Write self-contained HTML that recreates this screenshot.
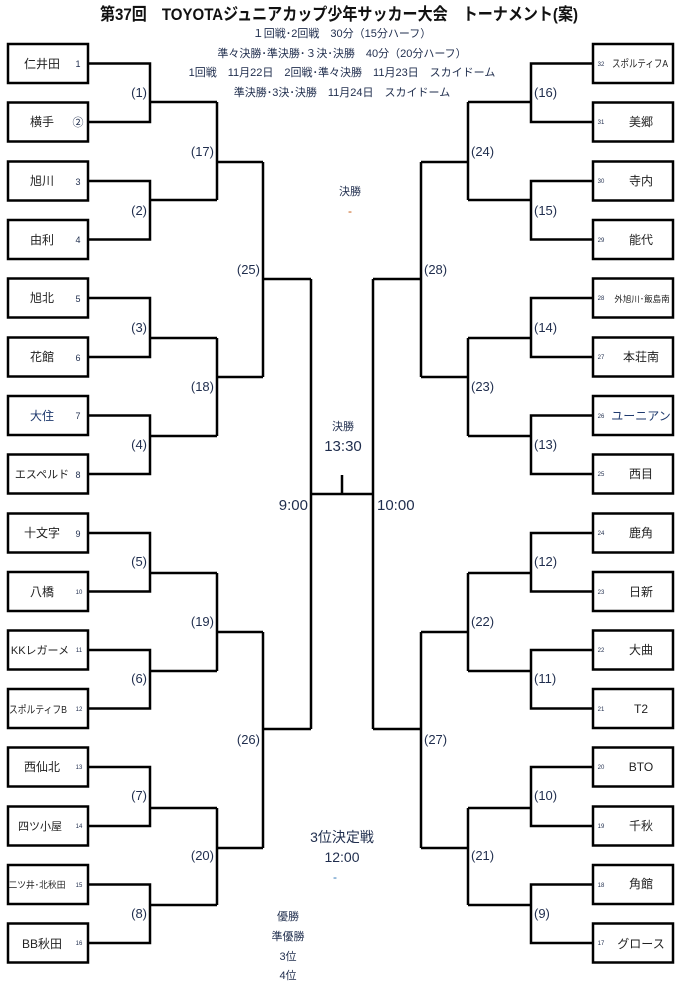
<!DOCTYPE html>
<html><head><meta charset="utf-8"><style>
html,body{margin:0;padding:0;background:#fff;}
svg{display:block;font-family:"Liberation Sans","Noto Sans CJK JP",sans-serif;}
.l{fill:#1f2d4d;font-size:13px;}
.n{fill:#222;font-size:12px;}
.s{fill:#1f2d4d;font-size:6px;}
.m{fill:#1f2d4d;font-size:9px;}
.h{fill:#1f2d4d;font-size:11px;}
</style></head><body>
<svg width="684" height="992" viewBox="0 0 684 992" xmlns="http://www.w3.org/2000/svg">
<text x="100" y="20" textLength="478" lengthAdjust="spacingAndGlyphs" font-size="17" font-weight="bold" fill="#111">第37回　TOYOTAジュニアカップ少年サッカー大会　トーナメント(案)</text>
<text class="h" x="342" y="37" text-anchor="middle">１回戦･2回戦　30分（15分ハーフ）</text>
<text class="h" x="342" y="57" text-anchor="middle">準々決勝･準決勝･３決･決勝　40分（20分ハーフ）</text>
<text class="h" x="342" y="76" text-anchor="middle">1回戦　11月22日　2回戦･準々決勝　11月23日　スカイドーム</text>
<text class="h" x="342" y="96" text-anchor="middle">準決勝･3決･決勝　11月24日　スカイドーム</text>

<g fill="none" stroke="#000" stroke-width="2.5">
<rect x="8" y="44" width="80" height="39"/><rect x="8" y="102.5" width="80" height="39"/>
<rect x="8" y="161.5" width="80" height="39"/><rect x="8" y="220" width="80" height="39"/>
<rect x="8" y="278.5" width="80" height="39"/><rect x="8" y="337.5" width="80" height="39"/>
<rect x="8" y="396" width="80" height="39"/><rect x="8" y="454.5" width="80" height="39"/>
<rect x="8" y="513.5" width="80" height="39"/><rect x="8" y="572" width="80" height="39"/>
<rect x="8" y="630.5" width="80" height="39"/><rect x="8" y="689" width="80" height="39"/>
<rect x="8" y="747.5" width="80" height="39"/><rect x="8" y="806.5" width="80" height="39"/>
<rect x="8" y="865" width="80" height="39"/><rect x="8" y="923.5" width="80" height="39"/>
<rect x="593" y="44" width="80" height="39"/><rect x="593" y="102.5" width="80" height="39"/>
<rect x="593" y="161.5" width="80" height="39"/><rect x="593" y="220" width="80" height="39"/>
<rect x="593" y="278.5" width="80" height="39"/><rect x="593" y="337.5" width="80" height="39"/>
<rect x="593" y="396" width="80" height="39"/><rect x="593" y="454.5" width="80" height="39"/>
<rect x="593" y="513.5" width="80" height="39"/><rect x="593" y="572" width="80" height="39"/>
<rect x="593" y="630.5" width="80" height="39"/><rect x="593" y="689" width="80" height="39"/>
<rect x="593" y="747.5" width="80" height="39"/><rect x="593" y="806.5" width="80" height="39"/>
<rect x="593" y="865" width="80" height="39"/><rect x="593" y="923.5" width="80" height="39"/>
<path d="M88 63.5H150V122H88M150 102H217"/>
<path d="M88 181H150V239.5H88M150 200H217"/>
<path d="M88 298H150V357H88M150 338H217"/>
<path d="M88 415.5H150V474H88M150 436H217"/>
<path d="M88 533H150V591.5H88M150 573H217"/>
<path d="M88 650H150V708.5H88M150 671H217"/>
<path d="M88 767H150V826H88M150 808H217"/>
<path d="M88 884.5H150V943H88M150 905H217"/>
<path d="M217 102V200M217 162H263"/>
<path d="M217 338V436M217 377H263"/>
<path d="M217 573V671M217 632H263"/>
<path d="M217 808V905M217 848H263"/>
<path d="M263 162V377M263 279H311"/>
<path d="M263 632V848M263 729H311"/>
<path d="M311 279V729M311 494H373M373 279V729M342 475V494"/>
<path d="M593 63.5H531V122H593M531 102H468"/>
<path d="M593 181H531V239.5H593M531 200H468"/>
<path d="M593 298H531V357H593M531 338H468"/>
<path d="M593 415.5H531V474H593M531 436H468"/>
<path d="M593 533H531V591.5H593M531 573H468"/>
<path d="M593 650H531V708.5H593M531 671H468"/>
<path d="M593 767H531V826H593M531 808H468"/>
<path d="M593 884.5H531V943H593M531 905H468"/>
<path d="M468 102V200M468 162H421"/>
<path d="M468 338V436M468 377H421"/>
<path d="M468 573V671M468 632H421"/>
<path d="M468 808V905M468 848H421"/>
<path d="M421 162V377M421 279H373"/>
<path d="M421 632V848M421 729H373"/>
</g>

<g class="n" text-anchor="middle">
<text x="42" y="68">仁井田</text><text x="42" y="126">横手</text>
<text x="42" y="185">旭川</text><text x="42" y="244">由利</text>
<text x="42" y="302">旭北</text><text x="42" y="361">花館</text>
<text x="42" y="420" fill="#1f3a6e">大住</text><text x="42" y="478" font-size="11">エスペルド</text>
<text x="42" y="537">十文字</text><text x="42" y="596">八橋</text>
<text x="40" y="654" font-size="11">KKレガーメ</text>
<text x="38" y="713" font-size="10.5" textLength="58" lengthAdjust="spacingAndGlyphs">スポルティフB</text>
<text x="42" y="771">西仙北</text><text x="40" y="830" font-size="11">四ツ小屋</text>
<text x="37" y="888" font-size="9" textLength="57" lengthAdjust="spacingAndGlyphs">二ツ井･北秋田</text><text x="42" y="948">BB秋田</text>
</g>
<g class="m" text-anchor="middle">
<text x="78" y="67">1</text><text x="78" y="126" font-size="11">②</text>
<text x="78" y="185">3</text><text x="78" y="243">4</text>
<text x="78" y="302">5</text><text x="78" y="361">6</text>
<text x="78" y="419">7</text><text x="78" y="478">8</text>
<text x="78" y="537">9</text>
</g>
<g class="s" text-anchor="middle">
<text x="79" y="594">10</text><text x="79" y="652">11</text><text x="79" y="711">12</text>
<text x="79" y="769">13</text><text x="79" y="828">14</text><text x="79" y="887">15</text><text x="79" y="945">16</text>
</g>

<g class="s" text-anchor="middle">
<text x="601" y="66">32</text><text x="601" y="124">31</text><text x="601" y="183">30</text><text x="601" y="242">29</text>
<text x="601" y="300">28</text><text x="601" y="359">27</text><text x="601" y="418">26</text><text x="601" y="476">25</text>
<text x="601" y="535">24</text><text x="601" y="594">23</text><text x="601" y="652">22</text><text x="601" y="711">21</text>
<text x="601" y="769">20</text><text x="601" y="828">19</text><text x="601" y="887">18</text><text x="601" y="945">17</text>
</g>
<g class="n" text-anchor="middle">
<text x="640" y="67" font-size="10.5" textLength="56" lengthAdjust="spacingAndGlyphs">スポルティフA</text><text x="641" y="126">美郷</text>
<text x="641" y="185">寺内</text><text x="641" y="244">能代</text>
<text x="642" y="302" font-size="8.5">外旭川･飯島南</text><text x="641" y="361">本荘南</text>
<text x="641" y="420" fill="#1f3a6e">ユーニアン</text><text x="641" y="478">西目</text>
<text x="641" y="537">鹿角</text><text x="641" y="596">日新</text>
<text x="641" y="654">大曲</text><text x="641" y="713">T2</text>
<text x="641" y="771">BTO</text><text x="641" y="830">千秋</text>
<text x="641" y="888">角館</text><text x="641" y="948">グロース</text>
</g>

<g class="l" text-anchor="end">
<text x="147" y="97">(1)</text><text x="147" y="215">(2)</text><text x="147" y="332">(3)</text><text x="147" y="449">(4)</text>
<text x="147" y="566">(5)</text><text x="147" y="683">(6)</text><text x="147" y="800">(7)</text><text x="147" y="918">(8)</text>
<text x="214" y="156">(17)</text><text x="214" y="391">(18)</text><text x="214" y="626">(19)</text><text x="214" y="860">(20)</text>
<text x="260" y="274">(25)</text><text x="260" y="744">(26)</text>
</g>
<g class="l" text-anchor="start">
<text x="534" y="97">(16)</text><text x="534" y="215">(15)</text><text x="534" y="332">(14)</text><text x="534" y="449">(13)</text>
<text x="534" y="566">(12)</text><text x="534" y="683">(11)</text><text x="534" y="800">(10)</text><text x="534" y="918">(9)</text>
<text x="471" y="156">(24)</text><text x="471" y="391">(23)</text><text x="471" y="626">(22)</text><text x="471" y="860">(21)</text>
<text x="424" y="274">(28)</text><text x="424" y="744">(27)</text>
</g>

<text class="h" x="350" y="195" text-anchor="middle">決勝</text>
<text x="350" y="215" text-anchor="middle" font-size="12" fill="#c55a11">-</text>
<text class="h" x="343" y="430" text-anchor="middle" font-size="12">決勝</text>
<text x="343" y="451" text-anchor="middle" font-size="15" fill="#1f2d4d">13:30</text>
<text x="308" y="510" text-anchor="end" font-size="15" fill="#1f2d4d">9:00</text>
<text x="377" y="510" text-anchor="start" font-size="15" fill="#1f2d4d">10:00</text>
<text x="342" y="842" text-anchor="middle" font-size="14" fill="#1f2d4d">3位決定戦</text>
<text x="342" y="862" text-anchor="middle" font-size="14" fill="#1f2d4d">12:00</text>
<text x="335" y="881" text-anchor="middle" font-size="12" fill="#2e75b6">-</text>
<g class="h" text-anchor="middle" font-size="12">
<text x="288" y="920">優勝</text><text x="288" y="940">準優勝</text><text x="288" y="960">3位</text><text x="288" y="979">4位</text>
</g>
</svg>
</body></html>
